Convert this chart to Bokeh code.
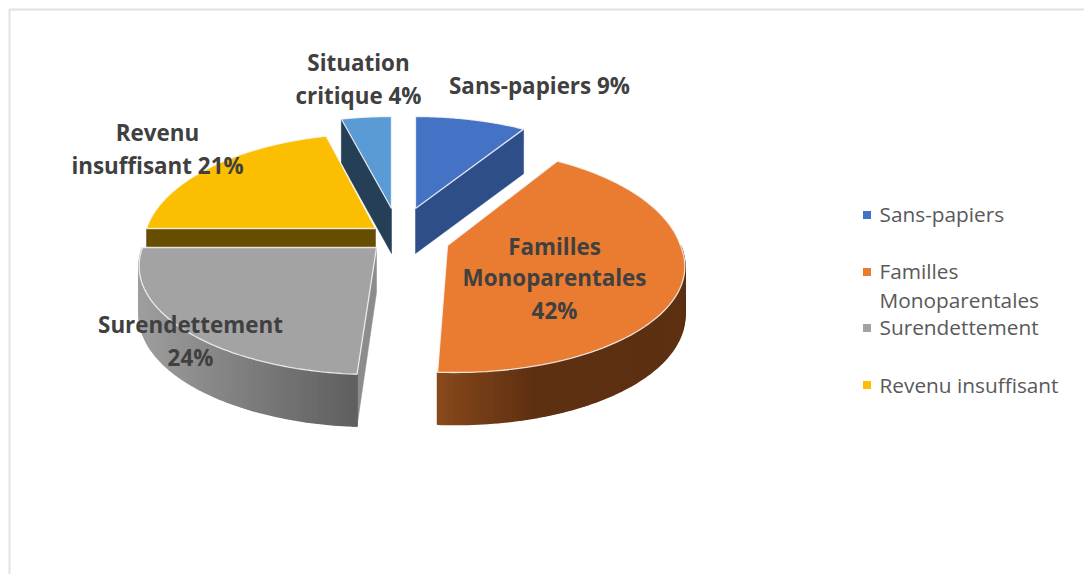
import numpy as np
from bokeh.plotting import figure
from bokeh.models import Range1d
from bokeh.core.properties import value
from bokeh.embed import file_html
from bokeh.resources import INLINE

# ---- data ----
categories = ["Sans-papiers", "Familles Monoparentales", "Surendettement", "Revenu insuffisant", "Situation critique"]
values = [9, 42, 24, 21, 4]
legend_lines = [["Sans-papiers"], ["Familles", "Monoparentales"], ["Surendettement"], ["Revenu insuffisant"]]
label_lines = [["Sans-papiers 9%"], ["Familles", "Monoparentales", "42%"], ["Surendettement", "24%"],
               ["Revenu", "insuffisant 21%"], ["Situation", "critique 4%"]]

# ---- styling / layout ----
top_colors = ["#4472C4", "#E97C30", "#A3A3A3", "#FCBE00", "#5B9BD5"]
wall_colors = ["#2E4E8A", "#8A4A1E", "#8C8C8C", "#664D00", "#243F56"]
apex_x = [415, 447, 376, 375, 391]
apex_y = [208, 245, 247, 228, 208]
half_width = [229, 233, 234, 229, 233]
near_lean = [0, 7.5, -2, 0, 0]
far_lift = [0, 6, 0, 3, 0]
B, K = 106.7, 0.16
label_x = [539, 554, 190, 157, 358]
label_y = [[85], [246, 277, 310], [324, 357], [132, 165], [62, 95]]
legend_text_y = [[213.5], [270.5, 299.5], [326.5], [384.5]]
legend_mark_y = [214.5, 271.5, 327.5, 384.5]
wall_x_stops = {1: ([437, 463, 530, 700], [(138, 74, 30), (125, 66, 25), (95, 49, 18), (93, 48, 18)]),
                2: ([140, 153, 253, 353], [(158, 158, 158), (154, 154, 154), (124, 124, 124), (96, 96, 96)])}

p = figure(width=1084, height=574, output_backend="svg", toolbar_location=None,
           x_range=Range1d(0, 1084), y_range=Range1d(574, 0), min_border=0,
           outline_line_color=None, background_fill_color="white")
p.axis.visible = False
p.grid.visible = False
p.xaxis.visible = False
p.yaxis.visible = False

# frame
p.line([9, 9, 1084], [574, 9, 9], line_color="#e2e2e2", line_width=2)


def rim(i, theta):
    c = np.cos(theta)
    s = 1 / (1 + K * c)
    return (apex_x[i] + half_width[i] * np.sin(theta) * s + near_lean[i] * np.clip(-c, 0, 1),
            apex_y[i] - B * c * s - far_lift[i] * np.clip(c, 0, 1))


def depth(theta):
    return 44 + 8 * (1 - np.cos(theta)) / 2


fractions = np.cumsum([0] + values) / sum(values)
starts = 2 * np.pi * fractions[:-1]
ends = 2 * np.pi * fractions[1:]


def top(i):
    t = np.linspace(starts[i], ends[i], 90)
    x, y = rim(i, t)
    p.patch(list(x) + [apex_x[i]], list(y) + [apex_y[i]], fill_color=top_colors[i],
            line_color="#f8f8f8", line_width=1.3, line_alpha=0.85)


def chord_wall(i, theta):
    x, y = rim(i, theta)
    d = depth(theta)
    p.patch([apex_x[i], x, x, apex_x[i]], [apex_y[i], y, y + d, apex_y[i] + 45],
            fill_color=wall_colors[i], line_color=wall_colors[i], line_width=0.5)


def outer_wall(i, a, b):
    t = np.linspace(a, b, 91)
    x, y = rim(i, t)
    d = depth(t)
    stops_x, stops_c = wall_x_stops[i]
    xs, ys, cs = [], [], []
    for k in range(len(t) - 1):
        xs.append([x[k], x[k + 1], x[k + 1], x[k]])
        ys.append([y[k], y[k + 1], y[k + 1] + d[k + 1], y[k] + d[k]])
        mid = (x[k] + x[k + 1]) / 2
        rgb = [int(np.interp(mid, stops_x, [c[j] for c in stops_c])) for j in range(3)]
        cs.append("#%02x%02x%02x" % tuple(rgb))
    p.patches(xs, ys, fill_color=cs, line_color=cs, line_width=1.6)


# painter's order: back to front
chord_wall(4, starts[4])
top(4)
chord_wall(0, ends[0])
top(0)
chord_wall(3, starts[3])
top(3)
outer_wall(1, np.pi / 2, ends[1])
top(1)
chord_wall(2, starts[2])
outer_wall(2, starts[2], ends[2])
top(2)

# data labels
for i, lines in enumerate(label_lines):
    p.text([label_x[i]] * len(lines), label_y[i], text=lines, text_align="center", text_baseline="middle",
           text_color="#404040", text_font=value("Open Sans"), text_font_style="bold", text_font_size="22.4px")

# legend
p.rect([866.5] * 4, legend_mark_y, width=8, height=8, fill_color=top_colors[:4], line_color=None)
for i, lines in enumerate(legend_lines):
    p.text([879] * len(lines), legend_text_y[i], text=lines, text_align="left", text_baseline="middle",
           text_color="#595959", text_font=value("Open Sans"), text_font_size="20.8px")

open("out.html", "w").write(file_html(p, INLINE))
